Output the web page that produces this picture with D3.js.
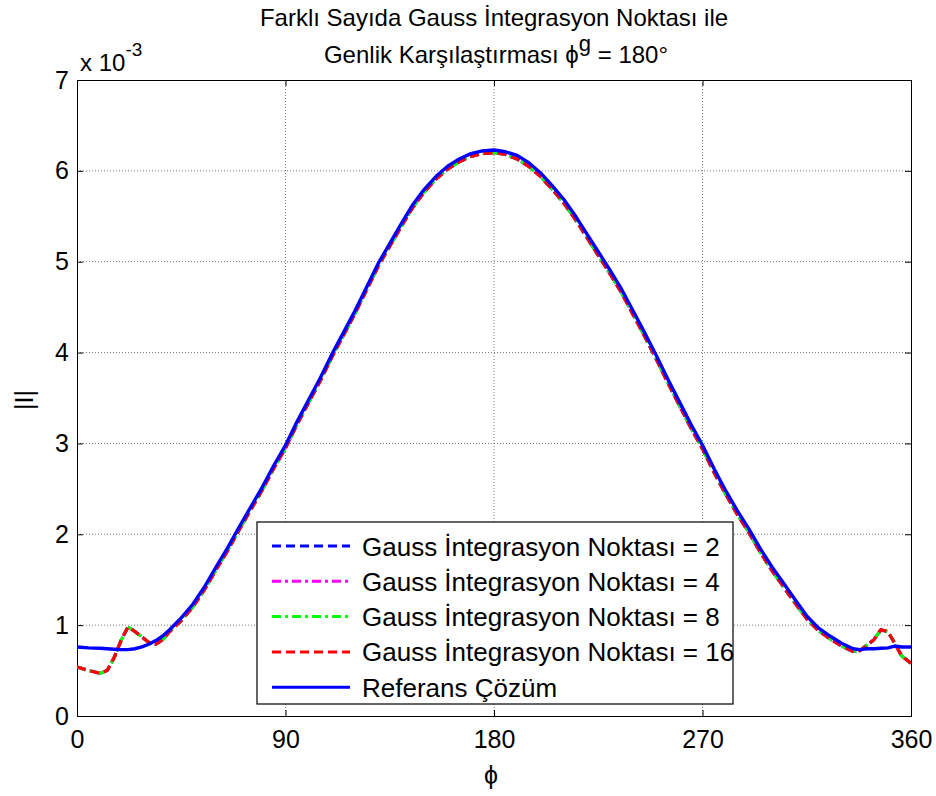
<!DOCTYPE html>
<html>
<head>
<meta charset="utf-8">
<script src="https://cdn.jsdelivr.net/npm/d3@7"></script>
<style>
  html, body { margin: 0; padding: 0; background: #fff; }
  svg { display: block; font-family: Arial, "Liberation Sans", sans-serif; }
</style>
</head>
<body>
<svg id="chart" width="936" height="796"></svg>
<script>
// ---------------- data ----------------
const phi = [0,5,10,13,16,19,22,25,28,31,34,37,40,45,50,55,60,65,70,75,80,85,90,95,100,105,110,115,120,125,130,135,140,145,150,155,160,165,170,175,180,185,190,195,200,205,210,215,220,225,230,235,240,245,250,255,260,265,270,275,280,285,290,295,300,305,310,315,320,325,330,335,338,341,344,347,350,353,356,360];

// Referans Çözüm (x 10^-3)
const referans = [0.76,0.75,0.745,0.74,0.735,0.73,0.73,0.74,0.76,0.79,0.83,0.88,0.95,1.08,1.23,1.42,1.64,1.85,2.08,2.30,2.52,2.76,2.98,3.24,3.48,3.72,3.98,4.22,4.46,4.72,4.98,5.20,5.42,5.63,5.80,5.94,6.05,6.13,6.19,6.22,6.23,6.21,6.17,6.09,5.98,5.84,5.69,5.51,5.31,5.11,4.91,4.70,4.46,4.22,3.97,3.71,3.46,3.21,2.98,2.72,2.48,2.26,2.06,1.84,1.64,1.46,1.28,1.10,0.97,0.88,0.80,0.74,0.73,0.74,0.74,0.745,0.75,0.77,0.76,0.76];

// Gauss integration results (2, 4, 8, 16 points overlap in the picture)
const gaussValues = [0.54,0.50,0.47,0.50,0.64,0.83,0.98,0.93,0.87,0.81,0.79,0.84,0.93,1.05,1.20,1.39,1.61,1.82,2.05,2.27,2.49,2.73,2.95,3.21,3.45,3.69,3.95,4.19,4.43,4.69,4.95,5.17,5.39,5.60,5.77,5.91,6.02,6.10,6.16,6.19,6.20,6.18,6.13,6.05,5.94,5.80,5.65,5.47,5.27,5.07,4.87,4.66,4.42,4.18,3.93,3.67,3.42,3.17,2.94,2.68,2.44,2.22,2.02,1.80,1.60,1.42,1.24,1.07,0.94,0.85,0.77,0.71,0.72,0.78,0.84,0.95,0.93,0.80,0.66,0.58];

const seriesNames = ["Gauss İntegrasyon Noktası = 2","Gauss İntegrasyon Noktası = 4","Gauss İntegrasyon Noktası = 8","Gauss İntegrasyon Noktası = 16","Referans Çözüm"];
const seriesValues = [gaussValues, gaussValues, gaussValues, gaussValues, referans];
const seriesColors = ["#0000ff","#ff00ff","#00ff00","#ff0000","#0000ff"];
const seriesDash = ["9,5","9,4,3,4","9,4,3,4","9,5",null];

const xTicks = [0,90,180,270,360];
const yTicks = [0,1,2,3,4,5,6,7];

// ---------------- layout ----------------
const L = 77, R = 911, T = 80, B = 716;
const FONT = "Arial, 'Liberation Sans', sans-serif";
const svg = d3.select("#chart");
const x = d3.scaleLinear().domain([0,360]).range([L,R]);
const y = d3.scaleLinear().domain([0,7]).range([B,T]);

// grid
const grid = svg.append("g").attr("stroke","#555").attr("stroke-width",0.8).attr("stroke-dasharray","1,2");
xTicks.slice(1,-1).forEach(t => grid.append("line").attr("x1",x(t)).attr("x2",x(t)).attr("y1",T).attr("y2",B));
yTicks.slice(1,-1).forEach(t => grid.append("line").attr("x1",L).attr("x2",R).attr("y1",y(t)).attr("y2",y(t)));

// axes (MATLAB style: inside ticks, box)
const axB = d3.axisBottom(x).tickValues(xTicks).tickSize(-6).tickPadding(14).tickFormat(d3.format("d"));
const axT = d3.axisTop(x).tickValues(xTicks).tickSize(-6).tickFormat("");
const axL = d3.axisLeft(y).tickValues(yTicks).tickSize(-6).tickPadding(8).tickFormat(d3.format("d"));
const axR = d3.axisRight(y).tickValues(yTicks).tickSize(-6).tickFormat("");
[[axB,`translate(0,${B})`],[axT,`translate(0,${T})`],[axL,`translate(${L},0)`],[axR,`translate(${R},0)`]].forEach(([a,tr]) => {
  const g = svg.append("g").attr("transform",tr).call(a);
  g.select(".domain").attr("stroke","#000").attr("stroke-width",1);
  g.selectAll(".tick line").attr("stroke","#000");
  g.selectAll(".tick text").attr("font-size",25).attr("fill","#000").attr("font-family",FONT);
});

// lines
const line = d3.line().x((d,i) => x(phi[i])).y(d => y(d));
svg.append("clipPath").attr("id","clip").append("rect").attr("x",L).attr("y",T).attr("width",R-L).attr("height",B-T);
const lines = svg.append("g").attr("clip-path","url(#clip)");
seriesValues.forEach((vals,k) => {
  lines.append("path").datum(vals)
    .attr("d",line).attr("fill","none")
    .attr("stroke",seriesColors[k])
    .attr("stroke-width", k === 4 ? 3.4 : 3.2)
    .attr("stroke-dasharray", seriesDash[k])
    .attr("stroke-linejoin","round");
});

// legend
const lg = svg.append("g");
const lx0 = 257, ly0 = 522, lw = 476, lh = 182;
lg.append("rect").attr("x",lx0).attr("y",ly0).attr("width",lw).attr("height",lh).attr("fill","#fff").attr("stroke","#000").attr("stroke-width",1.2);
seriesNames.forEach((name,k) => {
  const yy = ly0 + 24 + k*35.3;
  lg.append("line").attr("x1",lx0+15).attr("x2",lx0+93).attr("y1",yy).attr("y2",yy)
    .attr("stroke",seriesColors[k]).attr("stroke-width",3).attr("stroke-dasharray",seriesDash[k]);
  lg.append("text").attr("x",lx0+105).attr("y",yy+9.5).attr("font-size",26).attr("fill","#000").text(name);
});

// titles
svg.append("text").attr("x",494).attr("y",26).attr("text-anchor","middle").attr("font-size",24).attr("fill","#000")
  .text("Farklı Sayıda Gauss İntegrasyon Noktası ile");
const t2 = svg.append("text").attr("x",496).attr("y",63).attr("text-anchor","middle").attr("font-size",24).attr("fill","#000");
t2.append("tspan").text("Genlik Karşılaştırması ϕ");
t2.append("tspan").attr("dy",-12).attr("font-size",22).text("g");
t2.append("tspan").attr("dy",12).text(" = 180°");

// exponent
const ex = svg.append("text").attr("x",80).attr("y",71).attr("font-size",24).attr("fill","#000");
ex.append("tspan").text("x 10");
ex.append("tspan").attr("dy",-15).attr("font-size",19).text("-3");

// axis labels
svg.append("text").attr("x",491).attr("y",784).attr("text-anchor","middle").attr("font-size",25).attr("fill","#000").text("ϕ");
svg.append("text").attr("transform","translate(33,400) rotate(-90)").attr("text-anchor","middle").attr("font-size",25).attr("fill","#000").text("|I|");
</script>
</body>
</html>
